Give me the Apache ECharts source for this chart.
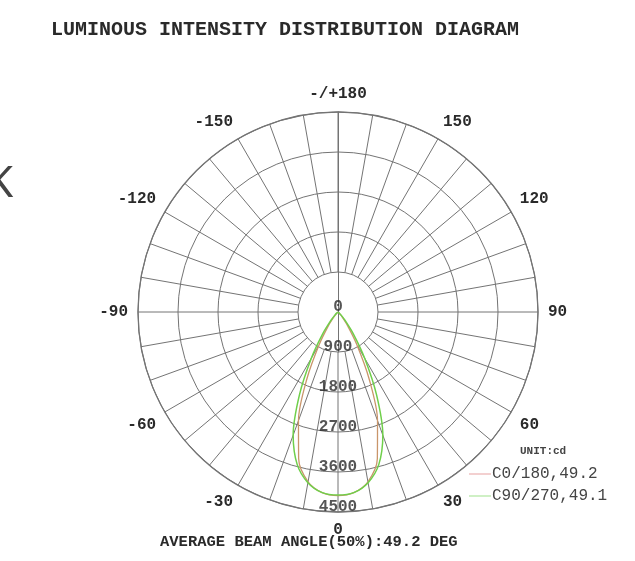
<!doctype html>
<html lang="en">
<head>
    <meta charset="utf-8">
    <title>Luminous intensity distribution</title>
    <style>
        html, body { margin: 0; padding: 0; background: #fff; }
    </style>
</head>
<body>

<div id="main" style="width:635px;height:561px;"></div>

<script src="https://cdn.jsdelivr.net/npm/echarts@6/dist/echarts.min.js"></script>

<script>

    var myChart = echarts.init(document.getElementById('main'));

    // gamma angles (deg), 0 = straight down
    var angles = [-60, -55, -50, -45, -40, -35, -30, -25, -20, -15, -10, -5, 0,
                  5, 10, 15, 20, 25, 30, 35, 40, 45, 50, 55, 60];
    // C0/180 intensity (cd)
    var c0Values = [0, 5, 15, 50, 150, 380, 850, 1650, 2600, 3420, 3880, 4080, 4130,
                    4080, 3880, 3420, 2600, 1650, 850, 380, 150, 50, 15, 5, 0];
    // C90/270 intensity (cd)
    var c90Values = [0, 15, 40, 100, 250, 600, 1200, 2050, 2950, 3550, 3900, 4080, 4120,
                     4080, 3900, 3550, 2950, 2050, 1200, 600, 250, 100, 40, 15, 0];
    var seriesNames = ['C0/180,49.2', 'C90/270,49.1'];
    var radiusTicks = [0, 900, 1800, 2700, 3600, 4500];

    var mono = '"Liberation Mono", "DejaVu Sans Mono", monospace';
    var gridColor = '#747474';
    var cx = 338, cy = 312, R = 200;

    var toPolar = function(vals) {
        var res = [];
        for (var i = 0; i < angles.length; i++) {
            res.push([vals[i], angles[i]]);
        }
        return res;
    };

    var option = {
        backgroundColor: '#fff',
        animation: false,
        title: {
            text: 'LUMINOUS INTENSITY DISTRIBUTION DIAGRAM',
            left: 280,
            top: 15,
            textAlign: 'center',
            textStyle: {
                fontFamily: mono,
                fontWeight: 'bold',
                fontSize: 20,
                color: '#2a2a2a'
            }
        },
        legend: {
            orient: 'vertical',
            left: 464,
            top: 461,
            itemWidth: 22,
            itemHeight: 1,
            itemGap: 6,
            icon: 'rect',
            data: seriesNames,
            textStyle: {
                fontFamily: mono,
                fontSize: 16,
                color: '#444',
                padding: [0, 0, 0, -4]
            }
        },
        polar: [
            // spokes (start at the 900 ring)
            { center: [cx, cy], radius: [R * 900 / 4500, R] },
            // main: rings, outer circle, angle labels, data
            { center: [cx, cy], radius: [0, R] },
            // lower half of the vertical line inside the first ring
            { center: [cx, cy], radius: [0, R * 900 / 4500] }
        ],
        angleAxis: [
            {
                polarIndex: 0,
                type: 'value',
                min: -180,
                max: 180,
                interval: 10,
                startAngle: 90,
                clockwise: false,
                axisLine: { show: false },
                axisTick: { show: false },
                axisLabel: { show: false },
                splitLine: { show: true, lineStyle: { color: gridColor, width: 1 } }
            },
            {
                polarIndex: 1,
                type: 'value',
                min: -180,
                max: 180,
                interval: 30,
                startAngle: 90,
                clockwise: false,
                axisLine: { show: true, lineStyle: { color: gridColor, width: 1.3 } },
                axisTick: { show: false },
                splitLine: { show: false },
                axisLabel: {
                    margin: 10,
                    fontFamily: mono,
                    fontWeight: 'bold',
                    fontSize: 16,
                    color: '#2a2a2a',
                    formatter: function(v) {
                        if (v === -180) return '-/+180';
                        if (v === 180) return '';
                        return String(v);
                    }
                }
            },
            {
                polarIndex: 2,
                type: 'value',
                min: -180,
                max: 180,
                startAngle: 270,
                clockwise: false,
                axisLine: { show: false },
                axisTick: { show: false },
                axisLabel: { show: false },
                splitLine: { show: false }
            }
        ],
        radiusAxis: [
            {
                polarIndex: 0,
                min: 0,
                max: 4500,
                show: false
            },
            {
                polarIndex: 1,
                type: 'value',
                min: 0,
                max: 4500,
                interval: 900,
                axisLine: { show: true, lineStyle: { color: gridColor, width: 1 } },
                axisTick: { show: false },
                axisLabel: { show: false },
                splitLine: { show: true, lineStyle: { color: gridColor, width: 1 } }
            },
            {
                polarIndex: 2,
                type: 'value',
                min: 0,
                max: 900,
                axisLine: { show: true, lineStyle: { color: gridColor, width: 1 } },
                axisTick: { show: false },
                axisLabel: { show: false },
                splitLine: { show: false }
            }
        ],
        graphic: [
            {
                type: 'text',
                left: -14,
                top: 162,
                style: {
                    text: 'K',
                    font: '44px "Noto Sans", sans-serif',
                    fill: '#444'
                }
            },
            {
                type: 'text',
                left: 520,
                top: 446,
                style: {
                    text: 'UNIT:cd',
                    font: 'bold 11px ' + mono,
                    fill: '#444'
                }
            },
            {
                type: 'text',
                left: 160,
                top: 534,
                style: {
                    text: 'AVERAGE BEAM ANGLE(50%):49.2 DEG',
                    font: 'bold 15.5px ' + mono,
                    fill: '#2a2a2a'
                }
            }
        ],
        series: [
            {
                name: seriesNames[0],
                type: 'line',
                coordinateSystem: 'polar',
                polarIndex: 1,
                smooth: 0.3,
                symbol: 'none',
                z: 3,
                lineStyle: { color: '#c9956a', width: 1.3 },
                itemStyle: { color: '#e6a0a0' },
                data: toPolar(c0Values)
            },
            {
                name: seriesNames[1],
                type: 'line',
                coordinateSystem: 'polar',
                polarIndex: 1,
                smooth: 0.3,
                symbol: 'none',
                z: 4,
                lineStyle: { color: '#6fcf4a', width: 1.5 },
                itemStyle: { color: '#9ee08a' },
                data: toPolar(c90Values)
            },
            // radius tick labels along the 0 deg direction
            {
                type: 'scatter',
                coordinateSystem: 'polar',
                polarIndex: 1,
                symbolSize: 1,
                z: 5,
                itemStyle: { color: 'rgba(0,0,0,0)' },
                label: {
                    show: true,
                    position: 'inside',
                    offset: [0, -5],
                    fontFamily: mono,
                    fontWeight: 'bold',
                    fontSize: 16,
                    color: '#2a2a2a',
                    formatter: function(p) { return String(p.value[0]); }
                },
                data: radiusTicks.map(function(r) { return [r, 0]; })
            }
        ]
    };

    myChart.setOption(option);

</script>
</body>
</html>
